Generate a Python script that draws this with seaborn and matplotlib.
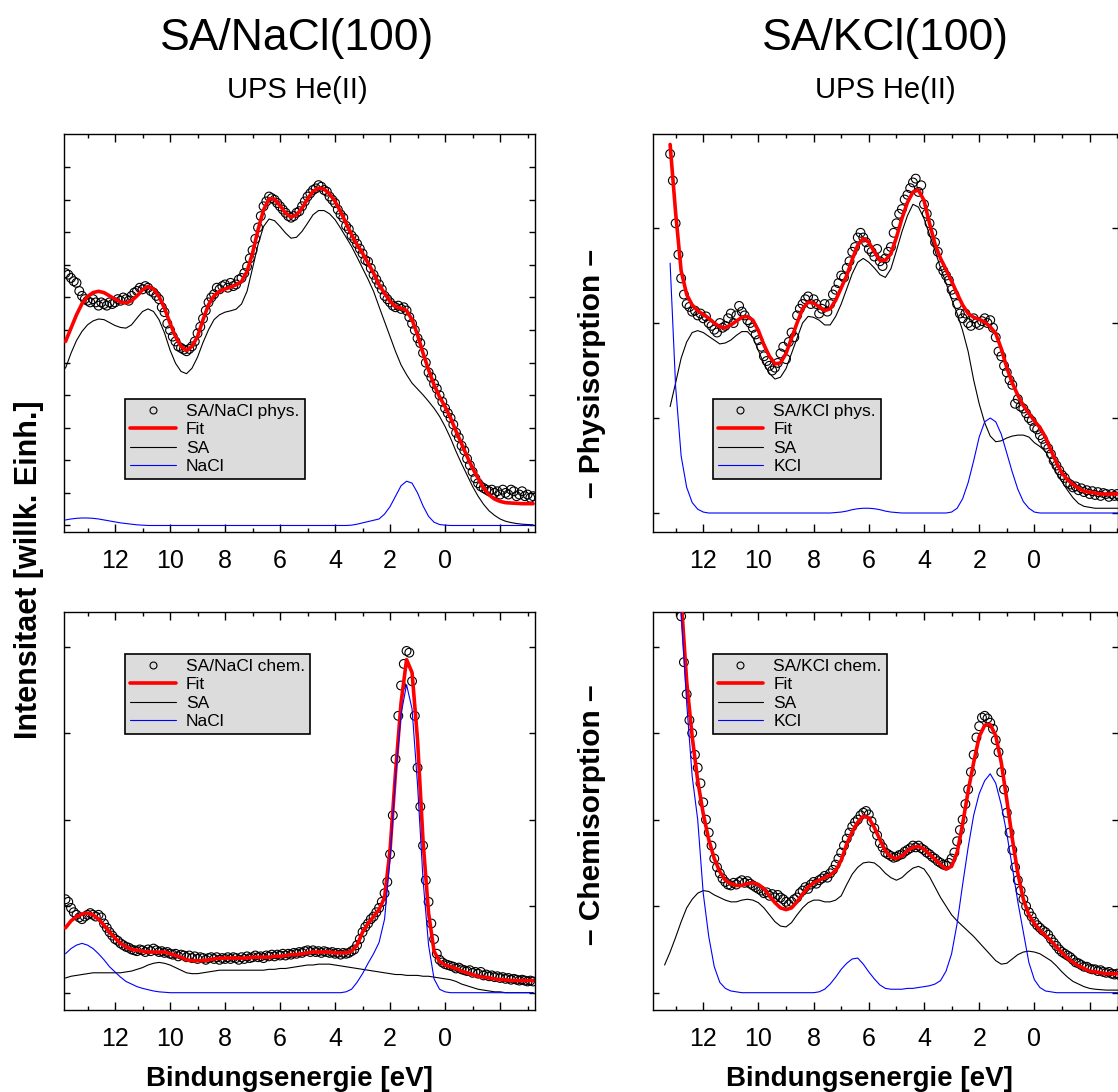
import numpy as np
import matplotlib
matplotlib.use('Agg')
import matplotlib.pyplot as plt
import seaborn as sns
from matplotlib.lines import Line2D
from matplotlib.legend_handler import HandlerLine2D

nan = np.nan

# Bindungsenergie (eV): Messpunkte alle 0.1 eV, Kurven alle 0.2 eV
energy_pts = [
    13.8, 13.7, 13.6, 13.5, 13.4, 13.3, 13.2, 13.1, 13.0, 12.9,
    12.8, 12.7, 12.6, 12.5, 12.4, 12.3, 12.2, 12.1, 12.0, 11.9,
    11.8, 11.7, 11.6, 11.5, 11.4, 11.3, 11.2, 11.1, 11.0, 10.9,
    10.8, 10.7, 10.6, 10.5, 10.4, 10.3, 10.2, 10.1, 10.0, 9.9,
    9.8, 9.7, 9.6, 9.5, 9.4, 9.3, 9.2, 9.1, 9.0, 8.9,
    8.8, 8.7, 8.6, 8.5, 8.4, 8.3, 8.2, 8.1, 8.0, 7.9,
    7.8, 7.7, 7.6, 7.5, 7.4, 7.3, 7.2, 7.1, 7.0, 6.9,
    6.8, 6.7, 6.6, 6.5, 6.4, 6.3, 6.2, 6.1, 6.0, 5.9,
    5.8, 5.7, 5.6, 5.5, 5.4, 5.3, 5.2, 5.1, 5.0, 4.9,
    4.8, 4.7, 4.6, 4.5, 4.4, 4.3, 4.2, 4.1, 4.0, 3.9,
    3.8, 3.7, 3.6, 3.5, 3.4, 3.3, 3.2, 3.1, 3.0, 2.9,
    2.8, 2.7, 2.6, 2.5, 2.4, 2.3, 2.2, 2.1, 2.0, 1.9,
    1.8, 1.7, 1.6, 1.5, 1.4, 1.3, 1.2, 1.1, 1.0, 0.9,
    0.8, 0.7, 0.6, 0.5, 0.4, 0.3, 0.2, 0.1, 0.0, -0.1,
    -0.2, -0.3, -0.4, -0.5, -0.6, -0.7, -0.8, -0.9, -1.0, -1.1,
    -1.2, -1.3, -1.4, -1.5, -1.6, -1.7, -1.8, -1.9, -2.0, -2.1,
    -2.2, -2.3, -2.4, -2.5, -2.6, -2.7, -2.8, -2.9, -3.0, -3.1,
    -3.2,
]
energy_line = [
    13.8, 13.6, 13.4, 13.2, 13.0,
    12.8, 12.6, 12.4, 12.2, 12.0,
    11.8, 11.6, 11.4, 11.2, 11.0,
    10.8, 10.6, 10.4, 10.2, 10.0,
    9.8, 9.6, 9.4, 9.2, 9.0,
    8.8, 8.6, 8.4, 8.2, 8.0,
    7.8, 7.6, 7.4, 7.2, 7.0,
    6.8, 6.6, 6.4, 6.2, 6.0,
    5.8, 5.6, 5.4, 5.2, 5.0,
    4.8, 4.6, 4.4, 4.2, 4.0,
    3.8, 3.6, 3.4, 3.2, 3.0,
    2.8, 2.6, 2.4, 2.2, 2.0,
    1.8, 1.6, 1.4, 1.2, 1.0,
    0.8, 0.6, 0.4, 0.2, 0.0,
    -0.2, -0.4, -0.6, -0.8, -1.0,
    -1.2, -1.4, -1.6, -1.8, -2.0,
    -2.2, -2.4, -2.6, -2.8, -3.0,
    -3.2,
]

# --- SA/NaCl(100) Physisorption ---
nacl_phys_pts = [
    7.75, 7.7, 7.6, 7.5, 7.45, 7.2, 7.05, 6.95, 6.9, 6.85,
    6.95, 6.85, 6.75, 6.85, 6.8, 6.75, 6.85, 6.8, 6.85, 6.95,
    6.9, 7.0, 6.95, 6.9, 7.05, 7.15, 7.2, 7.3, 7.25, 7.35,
    7.3, 7.2, 7.15, 7.05, 6.95, 6.7, 6.55, 6.2, 6.0, 5.8,
    5.65, 5.5, 5.45, 5.4, 5.35, 5.42, 5.5, 5.65, 5.9, 6.1,
    6.35, 6.6, 6.85, 7.0, 7.1, 7.3, 7.25, 7.35, 7.4, 7.3,
    7.45, 7.35, 7.4, 7.55, 7.6, 7.75, 7.95, 8.2, 8.45, 8.8,
    9.15, 9.5, 9.8, 9.95, 10.1, 10.05, 10.0, 9.9, 9.8, 9.7,
    9.6, 9.5, 9.45, 9.5, 9.6, 9.65, 9.8, 9.95, 10.1, 10.2,
    10.3, 10.35, 10.45, 10.4, 10.3, 10.25, 10.1, 10.0, 9.9, 9.7,
    9.55, 9.45, 9.2, 9.1, 8.9, 8.8, 8.65, 8.5, 8.35, 8.15,
    8.1, 7.9, 7.7, 7.55, 7.4, 7.25, 7.05, 6.95, 6.85, 6.75,
    6.7, 6.75, 6.65, 6.7, 6.6, 6.4, 6.2, 6.0, 5.75, 5.6,
    5.3, 5.0, 4.7, 4.55, 4.35, 4.2, 4.0, 3.8, 3.6, 3.45,
    3.3, 3.1, 2.85, 2.7, 2.45, 2.3, 2.05, 1.85, 1.65, 1.45,
    1.3, 1.2, 1.15, 1.1, 1.05, 1.1, 1.0, 1.05, 0.95, 1.1,
    1.0, 0.95, 1.1, 1.05, 0.9, 0.95, 1.05, 0.9, 0.95, 0.85,
    0.9,
]
nacl_phys_fit = [
    5.65, 6.06, 6.47, 6.81, 7.03,
    7.15, 7.19, 7.15, 7.05, 6.95,
    6.86, 6.83, 6.9, 7.05, 7.24,
    7.34, 7.26, 7.03, 6.67, 6.21,
    5.8, 5.5, 5.37, 5.5, 5.8,
    6.32, 6.78, 7.05, 7.19, 7.26,
    7.32, 7.39, 7.49, 7.8, 8.36,
    9.08, 9.69, 10.03, 10.02, 9.82,
    9.59, 9.47, 9.54, 9.74, 10.03,
    10.26, 10.36, 10.33, 10.18, 9.95,
    9.64, 9.28, 8.93, 8.62, 8.36,
    8.06, 7.75, 7.39, 7.13, 6.88,
    6.72, 6.67, 6.6, 6.32, 5.85,
    5.29, 4.78, 4.32, 3.95, 3.65,
    3.3, 2.89, 2.51, 2.12, 1.76,
    1.45, 1.15, 0.94, 0.81, 0.74,
    0.7, 0.69, 0.68, 0.67, 0.67,
    0.67,
]
nacl_phys_sa = [
    4.83, 5.29, 5.68, 5.96, 6.16,
    6.28, 6.34, 6.32, 6.23, 6.14,
    6.08, 6.06, 6.16, 6.37, 6.57,
    6.65, 6.57, 6.32, 5.91, 5.39,
    4.98, 4.73, 4.66, 4.83, 5.17,
    5.62, 6.01, 6.32, 6.47, 6.55,
    6.59, 6.64, 6.8, 7.19, 7.9,
    8.62, 9.18, 9.41, 9.36, 9.18,
    8.98, 8.82, 8.85, 9.03, 9.28,
    9.54, 9.67, 9.67, 9.57, 9.39,
    9.13, 8.85, 8.57, 8.24, 7.9,
    7.56, 7.19, 6.72, 6.26, 5.8,
    5.34, 4.93, 4.63, 4.37, 4.19,
    4.01, 3.81, 3.6, 3.35, 3.04,
    2.68, 2.27, 1.9, 1.55, 1.2,
    0.9, 0.65, 0.45, 0.31, 0.2,
    0.13, 0.09, 0.06, 0.04, 0.03,
    0.02,
]
nacl_phys_sub = [
    0.17, 0.2, 0.22, 0.23, 0.23,
    0.22, 0.2, 0.17, 0.14, 0.11,
    0.08, 0.06, 0.04, 0.02, 0.01,
    0, 0, 0, 0, 0,
    0, 0, 0, 0, 0,
    0, 0, 0, 0, 0,
    0, 0, 0, 0, 0,
    0, 0, 0, 0, 0,
    0, 0, 0, 0, 0,
    0, 0, 0, 0, 0,
    0, 0, 0.01, 0.04, 0.08,
    0.12, 0.16, 0.2, 0.35, 0.58,
    0.9, 1.22, 1.36, 1.3, 1.0,
    0.6, 0.28, 0.1, 0.03, 0.01,
    0, 0, 0, 0, 0,
    0, 0, 0, 0, 0,
    0, 0, 0, 0, 0,
    0,
]

# --- SA/KCl(100) Physisorption ---
kcl_phys_pts = [
    nan, nan, nan, nan, nan, nan, 3.78, 3.5, 3.05, 2.72,
    2.47, 2.3, 2.2, 2.17, 2.12, 2.13, 2.08, 2.1, 2.05, 2.07,
    2.0, 1.97, 1.93, 1.9, 2.0, 1.95, 1.97, 2.05, 2.1, 2.0,
    2.08, 2.18, 2.12, 2.08, 2.03, 2.0, 1.95, 1.88, 1.82, 1.75,
    1.65, 1.6, 1.55, 1.5, 1.53, 1.58, 1.68, 1.75, 1.62, 1.8,
    1.9, 1.85, 2.08, 2.15, 2.2, 2.25, 2.28, 2.2, 2.25, 2.2,
    2.1, 2.15, 2.2, 2.12, 2.2, 2.3, 2.35, 2.42, 2.5, 2.48,
    2.58, 2.65, 2.75, 2.8, 2.9, 2.95, 2.9, 2.85, 2.78, 2.75,
    2.7, 2.78, 2.65, 2.6, 2.68, 2.75, 2.8, 2.95, 3.05, 3.15,
    3.2, 3.3, 3.35, 3.42, 3.48, 3.52, 3.38, 3.45, 3.25, 3.15,
    3.05, 2.95, 2.85, 2.75, 2.6, 2.55, 2.5, 2.45, 2.35, 2.3,
    2.2, 2.1, 2.05, 2.1, 2.0, 1.97, 2.05, 2.0, 1.98, 2.02,
    2.05, 2.0, 2.03, 1.95, 1.85, 1.7, 1.65, 1.55, 1.48, 1.4,
    1.35, 1.15, 1.2, 1.12, 1.1, 1.05, 1.0, 0.97, 0.9, 0.88,
    0.82, 0.78, 0.72, 0.68, 0.62, 0.55, 0.5, 0.45, 0.4, 0.37,
    0.32, 0.3, 0.27, 0.28, 0.24, 0.26, 0.22, 0.24, 0.2, 0.23,
    0.19, 0.22, 0.18, 0.21, 0.2, 0.17, 0.2, 0.18, 0.2, 0.17,
    0.19,
]
kcl_phys_fit = [
    nan, nan, nan, 3.88, 3.16,
    2.55, 2.3, 2.19, 2.13, 2.09,
    2.05, 2.0, 1.96, 1.95, 1.98,
    2.02, 2.06, 2.07, 2.03, 1.92,
    1.77, 1.65, 1.57, 1.58, 1.68,
    1.84, 2.0, 2.15, 2.22, 2.21,
    2.17, 2.13, 2.15, 2.24, 2.37,
    2.5, 2.67, 2.82, 2.89, 2.85,
    2.75, 2.66, 2.66, 2.73, 2.9,
    3.1, 3.27, 3.38, 3.4, 3.29,
    3.05, 2.83, 2.68, 2.56, 2.44,
    2.31, 2.19, 2.1, 2.06, 2.04,
    2.01, 1.96, 1.89, 1.73, 1.53,
    1.37, 1.24, 1.13, 1.05, 0.97,
    0.9, 0.8, 0.66, 0.53, 0.42,
    0.35, 0.3, 0.26, 0.23, 0.22,
    0.21, 0.2, 0.2, 0.2, 0.2,
    0.2,
]
kcl_phys_sa = [
    nan, nan, nan, 1.12, 1.37,
    1.63, 1.8, 1.9, 1.92, 1.9,
    1.86, 1.82, 1.78, 1.79, 1.82,
    1.87, 1.91, 1.91, 1.85, 1.71,
    1.57, 1.47, 1.41, 1.43, 1.52,
    1.68, 1.84, 2.0, 2.07, 2.06,
    2.03, 1.98, 1.98, 2.07, 2.2,
    2.36, 2.52, 2.64, 2.68, 2.64,
    2.58, 2.51, 2.48, 2.57, 2.76,
    2.96, 3.13, 3.25, 3.22, 3.1,
    2.93, 2.76, 2.58, 2.42, 2.25,
    2.1, 1.92, 1.7, 1.4, 1.15,
    0.95, 0.81, 0.75, 0.76, 0.79,
    0.81, 0.82, 0.82, 0.8, 0.74,
    0.7, 0.65, 0.54, 0.42, 0.33,
    0.24, 0.16, 0.1, 0.07, 0.06,
    0.05, 0.05, 0.05, 0.05, 0.05,
    0.05,
]
kcl_phys_sub = [
    nan, nan, nan, 2.63, 1.33,
    0.6, 0.27, 0.11, 0.04, 0.01,
    0, 0, 0, 0, 0,
    0, 0, 0, 0, 0,
    0, 0, 0, 0, 0,
    0, 0, 0, 0, 0,
    0, 0, 0, 0.005, 0.01,
    0.02, 0.035, 0.045, 0.05, 0.05,
    0.045, 0.035, 0.02, 0.01, 0.005,
    0, 0, 0, 0, 0,
    0, 0, 0, 0, 0.01,
    0.05, 0.15, 0.32, 0.55, 0.8,
    0.96, 1.0, 0.96, 0.83, 0.63,
    0.43, 0.25, 0.12, 0.05, 0.01,
    0, 0, 0, 0, 0,
    0, 0, 0, 0, 0,
    0, 0, 0, 0, 0,
    0,
]

# --- SA/NaCl(100) Chemisorption ---
nacl_chem_pts = [
    1.08, 1.05, 0.98, 0.93, 0.9, 0.87, 0.85, 0.88, 0.9, 0.92,
    0.9, 0.88, 0.9, 0.87, 0.8, 0.75, 0.7, 0.66, 0.62, 0.6,
    0.57, 0.55, 0.53, 0.52, 0.5, 0.49, 0.48, 0.5, 0.49, 0.47,
    0.5, 0.48, 0.51, 0.49, 0.47, 0.48, 0.46, 0.47, 0.45, 0.44,
    0.45, 0.42, 0.44, 0.43, 0.41, 0.43, 0.4, 0.42, 0.39, 0.41,
    0.4, 0.38, 0.4, 0.41, 0.39, 0.41, 0.38, 0.4, 0.39, 0.41,
    0.39, 0.41, 0.4, 0.38, 0.41, 0.39, 0.42, 0.4, 0.41, 0.43,
    0.41, 0.42, 0.4, 0.43, 0.42, 0.44, 0.42, 0.44, 0.43, 0.45,
    0.43, 0.45, 0.44, 0.46, 0.45, 0.47, 0.46, 0.48, 0.49, 0.47,
    0.49, 0.47, 0.48, 0.46, 0.48, 0.47, 0.46, 0.47, 0.45, 0.46,
    0.44, 0.46, 0.45, 0.46, 0.48, 0.5, 0.55, 0.62, 0.7, 0.76,
    0.8, 0.85, 0.88, 0.93, 0.98, 1.05, 1.15, 1.28, 1.6, 2.05,
    2.7, 3.2, 3.55, 3.8, 3.95, 3.93, 3.6, 3.2, 2.6, 2.15,
    1.7, 1.3, 1.05, 0.8, 0.62, 0.45, 0.38, 0.35, 0.33, 0.32,
    0.31, 0.3, 0.28, 0.29, 0.27, 0.26, 0.25, 0.26, 0.23, 0.24,
    0.22, 0.24, 0.2, 0.21, 0.19, 0.2, 0.18, 0.19, 0.17, 0.18,
    0.16, 0.17, 0.15, 0.16, 0.15, 0.14, 0.15, 0.14, 0.13, 0.14,
    0.13,
]
nacl_chem_fit = [
    0.75, 0.83, 0.88, 0.91, 0.92,
    0.9, 0.85, 0.78, 0.7, 0.63,
    0.57, 0.53, 0.5, 0.49, 0.48,
    0.47, 0.47, 0.47, 0.47, 0.45,
    0.43, 0.41, 0.38, 0.37, 0.37,
    0.37, 0.38, 0.39, 0.4, 0.4,
    0.4, 0.4, 0.4, 0.4, 0.41,
    0.41, 0.41, 0.41, 0.42, 0.42,
    0.43, 0.44, 0.44, 0.45, 0.46,
    0.47, 0.47, 0.47, 0.47, 0.46,
    0.46, 0.46, 0.48, 0.55, 0.7,
    0.8, 0.88, 0.96, 1.1, 1.65,
    2.55, 3.35, 3.85, 3.7, 2.92,
    1.75, 0.92, 0.48, 0.36, 0.32,
    0.3, 0.28, 0.25, 0.23, 0.21,
    0.19, 0.18, 0.17, 0.16, 0.15,
    0.15, 0.14, 0.14, 0.14, 0.14,
    0.14,
]
nacl_chem_sa = [
    0.17, 0.19, 0.2, 0.21, 0.22,
    0.23, 0.23, 0.23, 0.23, 0.23,
    0.23, 0.24, 0.25, 0.27, 0.29,
    0.32, 0.34, 0.35, 0.34, 0.32,
    0.29, 0.26, 0.23, 0.22, 0.22,
    0.23, 0.24, 0.25, 0.26, 0.26,
    0.26, 0.26, 0.26, 0.26, 0.26,
    0.26, 0.26, 0.27, 0.27, 0.28,
    0.28, 0.29, 0.3, 0.31, 0.32,
    0.32, 0.33, 0.33, 0.33, 0.32,
    0.31, 0.3, 0.29, 0.28, 0.27,
    0.26, 0.25, 0.24, 0.23, 0.22,
    0.21, 0.21, 0.2, 0.2, 0.2,
    0.19, 0.19, 0.18, 0.17, 0.16,
    0.15, 0.13, 0.1, 0.08, 0.06,
    0.04, 0.03, 0.02, 0.01, 0.01,
    0, 0, 0, 0, 0,
    0,
]
nacl_chem_sub = [
    0.45, 0.51, 0.55, 0.57, 0.55,
    0.51, 0.45, 0.38, 0.3, 0.24,
    0.18, 0.13, 0.1, 0.07, 0.05,
    0.035, 0.02, 0.01, 0.005, 0,
    0, 0, 0, 0, 0,
    0, 0, 0, 0, 0,
    0, 0, 0, 0, 0,
    0, 0, 0, 0, 0,
    0, 0, 0, 0, 0,
    0, 0, 0, 0, 0,
    0, 0.01, 0.04, 0.12, 0.22,
    0.34, 0.45, 0.58, 0.85, 1.55,
    2.5, 3.22, 3.56, 3.28, 2.4,
    1.3, 0.55, 0.16, 0.04, 0.01,
    0, 0, 0, 0, 0,
    0, 0, 0, 0, 0,
    0, 0, 0, 0, 0,
    0,
]

# --- SA/KCl(100) Chemisorption ---
kcl_chem_pts = [
    nan, nan, nan, nan, nan, nan, nan, nan, nan, nan,
    4.35, 3.82, 3.45, 3.15, 3.0, 2.75, 2.6, 2.42, 2.2, 2.0,
    1.85, 1.7, 1.55, 1.45, 1.38, 1.32, 1.28, 1.25, 1.24, 1.27,
    1.25, 1.28, 1.3, 1.27, 1.29, 1.26, 1.24, 1.22, 1.2, 1.18,
    1.15, 1.16, 1.12, 1.14, 1.1, 1.13, 1.1, 1.08, 1.05, 1.02,
    1.05, 1.08, 1.1, 1.15, 1.18, 1.22, 1.2, 1.25, 1.28, 1.26,
    1.3, 1.32, 1.35, 1.33, 1.38, 1.42, 1.48, 1.55, 1.62, 1.7,
    1.78, 1.85, 1.92, 1.97, 2.0, 2.05, 2.08, 2.1, 2.06, 1.98,
    1.9, 1.82, 1.73, 1.68, 1.62, 1.6, 1.58, 1.56, 1.57, 1.59,
    1.6, 1.63, 1.65, 1.67, 1.7, 1.68, 1.7, 1.67, 1.65, 1.62,
    1.6, 1.57, 1.55, 1.52, 1.5, 1.48, 1.47, 1.5, 1.55, 1.62,
    1.75, 1.88, 2.0, 2.18, 2.35, 2.55, 2.75, 2.95, 3.08, 3.18,
    3.2, 3.17, 3.12, 3.05, 2.92, 2.78, 2.55, 2.35, 2.08, 1.85,
    1.65, 1.45, 1.3, 1.18, 1.08, 1.0, 0.93, 0.88, 0.82, 0.78,
    0.75, 0.72, 0.7, 0.67, 0.62, 0.58, 0.54, 0.5, 0.47, 0.45,
    0.43, 0.41, 0.38, 0.35, 0.34, 0.32, 0.3, 0.3, 0.28, 0.27,
    0.27, 0.25, 0.26, 0.24, 0.23, 0.24, 0.22, 0.21, 0.22, 0.2,
    0.21,
]
kcl_chem_fit = [
    nan, nan, nan, nan, 5.6,
    4.55, 3.6, 2.96, 2.45, 2.07,
    1.77, 1.55, 1.4, 1.3, 1.26,
    1.24, 1.24, 1.26, 1.27, 1.25,
    1.2, 1.12, 1.04, 0.98, 0.96,
    0.98, 1.05, 1.14, 1.22, 1.27,
    1.3, 1.33, 1.36, 1.41, 1.53,
    1.72, 1.86, 1.97, 2.04, 2.02,
    1.91, 1.77, 1.64, 1.57, 1.55,
    1.58, 1.64, 1.68, 1.69, 1.66,
    1.6, 1.54, 1.48, 1.43, 1.46,
    1.62, 1.95, 2.33, 2.66, 2.96,
    3.09, 3.1, 2.97, 2.66, 2.23,
    1.78, 1.38, 1.08, 0.9, 0.8,
    0.72, 0.66, 0.6, 0.53, 0.46,
    0.4, 0.35, 0.31, 0.28, 0.25,
    0.24, 0.23, 0.22, 0.22, 0.22,
    0.22,
]
kcl_chem_sa = [
    nan, nan, 0.32, 0.47, 0.64,
    0.82, 0.98, 1.08, 1.15, 1.18,
    1.17, 1.13, 1.1, 1.07, 1.05,
    1.05, 1.07, 1.08, 1.07, 1.04,
    0.98, 0.9, 0.82, 0.77, 0.76,
    0.81, 0.9, 0.98, 1.04, 1.07,
    1.07, 1.05, 1.05, 1.07, 1.12,
    1.25, 1.37, 1.45, 1.5, 1.51,
    1.5, 1.45, 1.38, 1.33, 1.3,
    1.33, 1.39, 1.44, 1.46, 1.43,
    1.34, 1.22, 1.1, 1.0, 0.9,
    0.83, 0.77, 0.71, 0.65, 0.58,
    0.51, 0.44, 0.37, 0.33, 0.34,
    0.39, 0.44, 0.47, 0.48, 0.47,
    0.45, 0.41, 0.37, 0.31, 0.24,
    0.18, 0.13, 0.1, 0.07, 0.05,
    0.04, 0.035, 0.03, 0.03, 0.03,
    0.03,
]
kcl_chem_sub = [
    nan, nan, nan, nan, 5.8,
    4.4, 3.35, 2.5, 2.0, 1.15,
    0.65, 0.3, 0.12, 0.05, 0.02,
    0.01, 0, 0, 0, 0,
    0, 0, 0, 0, 0,
    0, 0, 0, 0, 0,
    0.01, 0.04, 0.1, 0.18, 0.27,
    0.34, 0.39, 0.4, 0.33, 0.24,
    0.16, 0.09, 0.05, 0.04, 0.04,
    0.04, 0.05, 0.05, 0.06, 0.07,
    0.08, 0.1, 0.14, 0.25, 0.45,
    0.8, 1.25, 1.68, 2.05, 2.3,
    2.45, 2.53, 2.42, 2.17, 1.84,
    1.45, 1.05, 0.7, 0.35, 0.15,
    0.06, 0.02, 0.01, 0, 0,
    0, 0, 0, 0, 0,
    0, 0, 0, 0, 0,
    0,
]

major_ticks = [12, 10, 8, 6, 4, 2, 0, -2]
major_labels = ['12', '10', '8', '6', '4', '2', '0', '']
minor_ticks = [13, 11, 9, 7, 5, 3, 1, -1, -3]

sns.set_style('ticks')
plt.rcParams['font.family'] = ['Liberation Sans', 'DejaVu Sans']
plt.rcParams['axes.linewidth'] = 1.0
plt.rcParams['text.color'] = 'black'
plt.rcParams['axes.labelcolor'] = 'black'
plt.rcParams['xtick.color'] = 'black'
plt.rcParams['ytick.color'] = 'black'


class MarkerRight(HandlerLine2D):
    # Kreis rechts im Legendenfeld, wie im Original
    def get_xdata(self, legend, xdescent, ydescent, width, height, fontsize):
        xdata, _ = super().get_xdata(legend, xdescent, ydescent, width, height, fontsize)
        return xdata, [-xdescent + width - 0.2 * fontsize]


W, H = 1118, 1092
panels = [
    # rect (px: left, top, width, height), xlim, ylim, yticks, daten, labels, legend anchor
    ((64, 134, 471, 398), (13.855, -3.27), (-0.2, 12.02), range(0, 12),
     nacl_phys_pts, nacl_phys_fit, nacl_phys_sa, nacl_phys_sub,
     ['SA/NaCl phys.', 'Fit', 'SA', 'NaCl'], (0.13, 0.133)),
    ((653, 134, 465, 398), (13.82, -3.03), (-0.2, 3.99), range(0, 4),
     kcl_phys_pts, kcl_phys_fit, kcl_phys_sa, kcl_phys_sub,
     ['SA/KCl phys.', 'Fit', 'SA', 'KCl'], (0.128, 0.133)),
    ((64, 612, 471, 398), (13.855, -3.27), (-0.2, 4.4), range(0, 5),
     nacl_chem_pts, nacl_chem_fit, nacl_chem_sa, nacl_chem_sub,
     ['SA/NaCl chem.', 'Fit', 'SA', 'NaCl'], (0.13, 0.693)),
    ((653, 612, 465, 398), (13.82, -3.03), (-0.2, 4.4), range(0, 5),
     kcl_chem_pts, kcl_chem_fit, kcl_chem_sa, kcl_chem_sub,
     ['SA/KCl chem.', 'Fit', 'SA', 'KCl'], (0.128, 0.693)),
]

fig = plt.figure(figsize=(W / 100, H / 100), dpi=100)

for rect, xlim, ylim, yticks, pts, fit, sa, sub, labels, anchor in panels:
    l, t, w, h = rect
    ax = fig.add_axes([l / W, 1 - (t + h) / H, w / W, h / H])
    sns.scatterplot(x=energy_pts, y=pts, ax=ax, marker='o', s=40,
                    facecolor='none', edgecolor='black', linewidth=0.8,
                    legend=False, zorder=2)
    sns.lineplot(x=energy_line, y=fit, ax=ax, color='red', linewidth=2.6,
                 estimator=None, legend=False, zorder=3)
    sns.lineplot(x=energy_line, y=sa, ax=ax, color='black', linewidth=0.8,
                 estimator=None, legend=False, zorder=4)
    sns.lineplot(x=energy_line, y=sub, ax=ax, color='blue', linewidth=0.8,
                 estimator=None, legend=False, zorder=4)

    ax.set_xlim(*xlim)
    ax.set_ylim(*ylim)
    ax.set_xticks(major_ticks)
    ax.set_xticklabels(major_labels)
    ax.set_xticks(minor_ticks, minor=True)
    ax.set_yticks(list(yticks))
    ax.set_yticklabels([])
    ax.set_xlabel('')
    ax.set_ylabel('')
    ax.tick_params(which='both', direction='in', top=True, right=True, colors='black', width=1)
    ax.tick_params(axis='x', which='major', length=5.8, labelsize=18, pad=12)
    ax.tick_params(axis='x', which='minor', length=3.2)
    ax.tick_params(axis='y', which='major', length=4.5)
    for sp in ax.spines.values():
        sp.set_color('black')
        sp.set_linewidth(1.0)

    handles = [
        Line2D([], [], ls='none', marker='o', mfc='none', mec='black', ms=5, mew=0.8),
        Line2D([], [], color='red', lw=2.6),
        Line2D([], [], color='black', lw=0.8),
        Line2D([], [], color='blue', lw=0.8),
    ]
    leg = ax.legend(handles, labels, loc='lower left', bbox_to_anchor=anchor,
                    borderaxespad=0, fontsize=12.5, frameon=True, fancybox=False,
                    framealpha=1, facecolor='#dcdcdc', edgecolor='black',
                    handlelength=2.6, handletextpad=0.6, borderpad=0.3,
                    labelspacing=0.18, handler_map={handles[0]: MarkerRight()})
    leg.get_frame().set_linewidth(1.2)
    for txt in leg.get_texts():
        txt.set_color('black')

# Titel und Achsenbeschriftungen
fig.text(297.5 / W, 1 - 50 / H, 'SA/NaCl(100)', ha='center', va='baseline', fontsize=32, color='black')
fig.text(885.5 / W, 1 - 50 / H, 'SA/KCl(100)', ha='center', va='baseline', fontsize=32, color='black')
fig.text(297.5 / W, 1 - 98 / H, 'UPS He(II)', ha='center', va='baseline', fontsize=21, color='black')
fig.text(885.5 / W, 1 - 98 / H, 'UPS He(II)', ha='center', va='baseline', fontsize=21, color='black')

fig.text(29 / W, 1 - 570 / H, 'Intensitaet [willk. Einh.]', rotation=90,
         ha='center', va='center', fontsize=22, fontweight='bold', color='black')
fig.text(592 / W, 1 - 374 / H, '\u2013 Physisorption \u2013', rotation=90,
         ha='center', va='center', fontsize=21.5, fontweight='bold', color='black')
fig.text(592 / W, 1 - 815 / H, '\u2013 Chemisorption \u2013', rotation=90,
         ha='center', va='center', fontsize=21.5, fontweight='bold', color='black')

fig.text(289.5 / W, 1 - 1086 / H, 'Bindungsenergie [eV]', ha='center', va='baseline',
         fontsize=20, fontweight='bold', color='black')
fig.text(869.5 / W, 1 - 1086 / H, 'Bindungsenergie [eV]', ha='center', va='baseline',
         fontsize=20, fontweight='bold', color='black')

fig.savefig('out.png', dpi=100)
